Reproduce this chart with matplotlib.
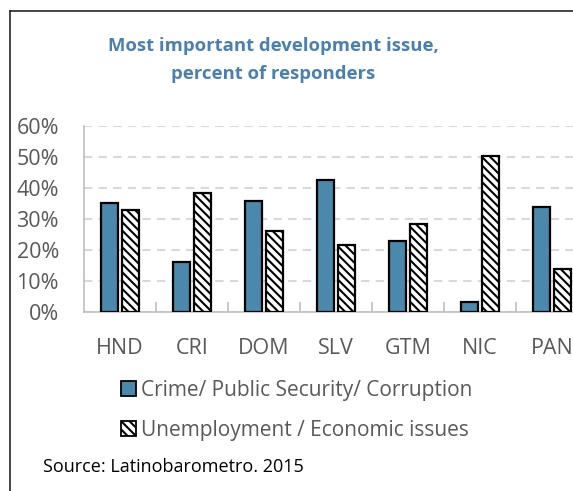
import matplotlib
matplotlib.use("Agg")
import matplotlib.pyplot as plt
import numpy as np
from matplotlib.patches import Patch
from matplotlib.lines import Line2D
from matplotlib.ticker import PercentFormatter

# Data
countries = ["HND", "CRI", "DOM", "SLV", "GTM", "NIC", "PAN"]
crime = [35.2, 16.0, 35.7, 42.6, 22.9, 3.3, 33.9]
unemployment = [33.0, 38.4, 26.0, 21.7, 28.3, 50.2, 13.9]
series_names = ["Crime/ Public Security/ Corruption", "Unemployment / Economic issues"]

plt.rcParams['font.family'] = ['Open Sans', 'DejaVu Sans']
plt.rcParams['hatch.linewidth'] = 1.5

blue = '#4A89AC'
grey_txt = '#595959'
hatch = '\\\\\\\\'

fig = plt.figure(figsize=(5.73, 4.91), dpi=100)
ax = fig.add_axes([84/573, 179/491, 504/573, 186/491])

x = np.arange(len(countries))
w = 0.23
ax.bar(x - 0.143, crime, w, color=blue, edgecolor='black', linewidth=1.6, zorder=3)
ax.bar(x + 0.143, unemployment, w, color='white', edgecolor='black', hatch=hatch,
       linewidth=1.6, zorder=3)

ax.set_xlim(-0.5, len(countries) - 0.5)
ax.set_ylim(0, 60)
ax.set_yticks(np.arange(0, 61, 10))
ax.yaxis.set_major_formatter(PercentFormatter(decimals=0))
ax.grid(axis='y', color='#D9D9D9', linestyle=(0, (4, 3)), linewidth=1.5, zorder=0)

for s in ['top', 'right']:
    ax.spines[s].set_visible(False)
ax.spines['left'].set_color('#BFBFBF')
ax.spines['bottom'].set_color('#BFBFBF')
ax.spines['left'].set_linewidth(1.2)
ax.spines['bottom'].set_linewidth(1.2)

# category ticks between groups
ax.set_xticks(x)
ax.set_xticklabels(countries)
ax.set_xticks(np.arange(0.5, len(countries) - 0.5, 1), minor=True)
ax.tick_params(axis='x', which='major', length=0, pad=19, labelsize=15.5, labelcolor=grey_txt)
ax.tick_params(axis='x', which='minor', direction='in', length=7, color='#BFBFBF', width=1.2)
ax.tick_params(axis='y', length=0, pad=18, labelsize=15.5, labelcolor=grey_txt)

fig.text(273/573, 1 - 60/491, "Most important development issue,\npercent of responders",
         ha='center', va='center', fontsize=13.3, fontweight='bold', color='#4A80B0',
         linespacing=1.65)

handles = [Patch(facecolor=blue, edgecolor='black', linewidth=1.3),
           Patch(facecolor='white', edgecolor='black', hatch=hatch, linewidth=1.3)]
fig.legend(handles, series_names, loc='upper left', bbox_to_anchor=(121/573, 1 - 380/491),
           frameon=False, fontsize=15.0, labelcolor=grey_txt, handlelength=0.7,
           handleheight=0.7, handletextpad=0.25, labelspacing=0.9, borderpad=0,
           borderaxespad=0)

fig.text(43/573, 1 - 467/491, "Source: Latinobarometro. 2015", ha='left', va='center',
         fontsize=13, color='black')

# outer frame (top and left edges visible)
fig.add_artist(Line2D([10/573, 10/573], [0, 1 - 11/491], color='#262626', linewidth=1.2))
fig.add_artist(Line2D([10/573, 1], [1 - 11/491, 1 - 11/491], color='#262626', linewidth=1.2))

fig.savefig('out.png', dpi=100)
